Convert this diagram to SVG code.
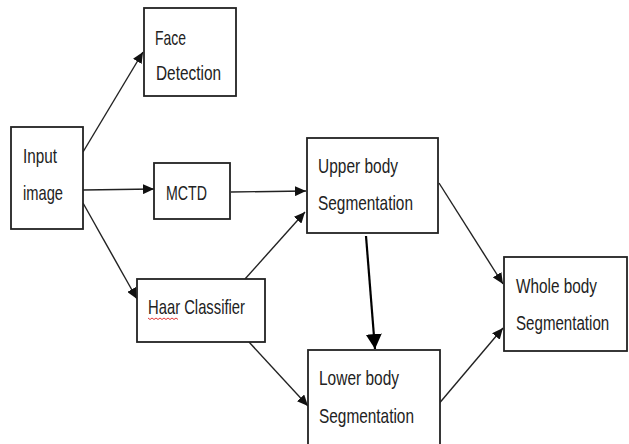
<svg xmlns="http://www.w3.org/2000/svg" width="629" height="444" viewBox="0 0 629 444">
<defs>
<style>
.box{fill:#fff;stroke:#222;stroke-width:1.8}
.t{font-family:"Liberation Sans",Arial,sans-serif;font-size:21px;fill:#222}
.c{stroke:#222;stroke-width:1.4;fill:none;marker-end:url(#ah)}
.cb{stroke:#000;stroke-width:2.2;fill:none;marker-end:url(#ahb)}
</style>
<marker id="ah" markerUnits="userSpaceOnUse" markerWidth="12" markerHeight="10" refX="11" refY="5" orient="auto">
<path d="M0,0 L11,5 L0,10 Z" fill="#111"/>
</marker>
<marker id="ahb" markerUnits="userSpaceOnUse" markerWidth="16" markerHeight="16" refX="15" refY="8" orient="auto">
<path d="M0,0 L15,8 L0,16 Z" fill="#000"/>
</marker>
</defs>
<rect width="629" height="444" fill="#fff"/>
<g id="connectors">
<line class="c" x1="83" y1="152" x2="143" y2="52"/>
<line class="c" x1="83" y1="190" x2="154" y2="189"/>
<line class="c" x1="231" y1="192" x2="306" y2="191"/>
<line class="c" x1="83" y1="203" x2="137" y2="299"/>
<line class="c" x1="245" y1="279" x2="305" y2="212"/>
<line class="c" x1="249" y1="342" x2="308" y2="406"/>
<line class="c" x1="439" y1="183" x2="503" y2="284"/>
<line class="c" x1="437" y1="406" x2="503" y2="328"/>
<line class="cb" x1="366" y1="236" x2="375" y2="349"/>
</g>
<g id="face">
<rect class="box" x="144" y="8" width="92" height="88"/>
<text class="t" x="155" y="45" textLength="31" lengthAdjust="spacingAndGlyphs">Face</text>
<text class="t" x="156" y="80" textLength="65" lengthAdjust="spacingAndGlyphs">Detection</text>
</g>
<g id="input">
<rect class="box" x="11" y="127" width="72" height="102"/>
<text class="t" x="23" y="163" textLength="34" lengthAdjust="spacingAndGlyphs">Input</text>
<text class="t" x="23" y="200" textLength="40" lengthAdjust="spacingAndGlyphs">image</text>
</g>
<g id="mctd">
<rect class="box" x="154" y="163" width="76" height="56"/>
<text class="t" x="166" y="200" textLength="41" lengthAdjust="spacingAndGlyphs">MCTD</text>
</g>
<g id="haar">
<rect class="box" x="137" y="279" width="128" height="63"/>
<text class="t" x="148" y="314" textLength="97" lengthAdjust="spacingAndGlyphs">Haar Classifier</text>
<path d="M148,318 l2,1.5 l2,-1.5 l2,1.5 l2,-1.5 l2,1.5 l2,-1.5 l2,1.5 l2,-1.5 l2,1.5 l2,-1.5 l2,1.5 l2,-1.5 l2,1.5 l2,-1.5 l2,1.5" fill="none" stroke="#e02020" stroke-width="0.9"/>
</g>
<g id="upper">
<rect class="box" x="307" y="138" width="131" height="95"/>
<text class="t" x="318" y="173" textLength="80" lengthAdjust="spacingAndGlyphs">Upper body</text>
<text class="t" x="318" y="210" textLength="95" lengthAdjust="spacingAndGlyphs">Segmentation</text>
</g>
<g id="lower">
<rect class="box" x="308" y="350" width="132" height="110"/>
<text class="t" x="319" y="385" textLength="80" lengthAdjust="spacingAndGlyphs">Lower body</text>
<text class="t" x="319" y="423" textLength="95" lengthAdjust="spacingAndGlyphs">Segmentation</text>
</g>
<g id="whole">
<rect class="box" x="504" y="257" width="123" height="94"/>
<text class="t" transform="translate(516,293) scale(0.73,1)">Whole body</text>
<text class="t" transform="translate(516,330) scale(0.72,1)">Segmentation</text>
</g>
</svg>
